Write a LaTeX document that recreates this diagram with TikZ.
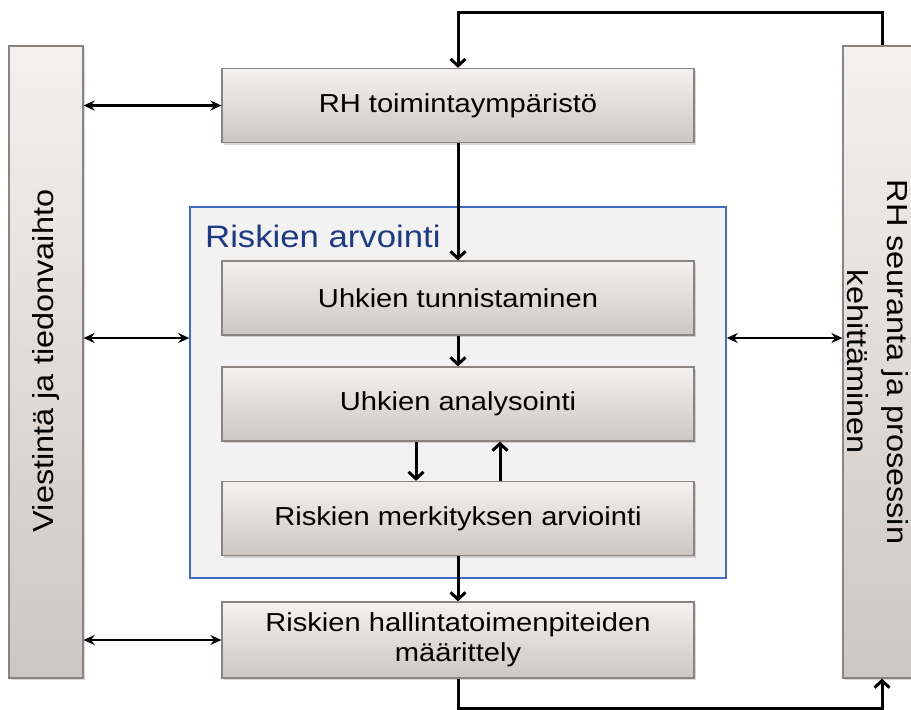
\documentclass[tikz,border=0pt]{standalone}
\usepackage{fontspec}
\setmainfont{Liberation Sans}[FakeStretch=1.12]
\usetikzlibrary{arrows.meta,shadows,calc}
\definecolor{boxtop}{HTML}{F3F1F0}
\definecolor{boxbot}{HTML}{CEC6C2}
\definecolor{boxline}{HTML}{8A837F}
\definecolor{blueline}{HTML}{3D6CC0}
\definecolor{bluefill}{HTML}{F2F2F2}
\definecolor{titleblue}{HTML}{1F3A80}
\begin{document}
\begin{tikzpicture}[x=1pt,y=-1pt,
  shadebox/.style={draw=boxline, line width=1.2pt, top color=boxtop, bottom color=boxbot,
    inner sep=0pt, drop shadow={opacity=0.3, shadow xshift=2pt, shadow yshift=-2pt}},
  procbox/.style={shadebox, minimum width=472pt, minimum height=74pt, align=center,
    font=\fontsize{26}{30}\selectfont},
  barbox/.style={shadebox, minimum width=74pt, minimum height=632pt},
  bartext/.style={font=\fontsize{29}{40}\selectfont, align=center, inner sep=0pt},
  twoway/.style={line width=2.6pt, {Stealth[length=11pt,width=10pt]}-{Stealth[length=11pt,width=10pt]}},
  oneway/.style={line width=3pt, -{Straight Barb[length=7pt,width=15pt]}}
]
\useasboundingbox (0,0) rectangle (911,710);
\clip (0,0) rectangle (911,710);

% blue group
\node[draw=blueline, fill=bluefill, line width=1.5pt, minimum width=536pt, minimum height=371pt, inner sep=0pt] (ra) at (458,392.5) {};
\node[anchor=base west, text=titleblue, font=\fontsize{31}{36}\selectfont, inner sep=0pt] (tt) at (205,247) {Riskien arvointi};

% bars
\node[barbox] (lb) at (46,362) {};
\node[barbox] (rb) at (880,362) {};
\node[bartext, rotate=90] (lt) at (46,361) {Viestintä ja tiedonvaihto};
\node[bartext, rotate=-90] (rt) at (878,362) {RH seuranta ja prosessin\\kehittäminen};

% process boxes
\node[procbox] (rh) at (458,105.5) {RH toimintaympäristö};
\node[procbox] (ut) at (458,298) {Uhkien tunnistaminen};
\node[procbox] (ua) at (458,404) {Uhkien analysointi};
\node[procbox] (rm) at (458,518.5) {Riskien merkityksen arviointi};
\node[procbox, minimum height=76pt] (rhm) at (458,640) {Riskien hallintatoimenpiteiden\\määrittely};

% helper coordinates
\coordinate (mid) at (0,338);
\coordinate (tp) at (458,12);
\coordinate (bt) at (458,708);
\coordinate (rx) at (882,0);

% two-way connectors
\draw[twoway] (lb.east |- rh.west) -- (rh.west);
\draw[twoway] (lb.east |- mid) -- (ra.west |- mid);
\draw[twoway] (ra.east |- mid) -- (rb.west |- mid);
\draw[twoway] (lb.east |- rhm.west) -- (rhm.west);

% main flow
\draw[oneway] (rx |- rb.north) |- (tp) -- (rh.north);
\draw[oneway] (rh.south) -- (ut.north);
\draw[oneway] (ut.south) -- (ua.north);
\draw[oneway] ([xshift=-42pt]ua.south) -- ([xshift=-42pt]rm.north);
\draw[oneway] ([xshift=42pt]rm.north) -- ([xshift=42pt]ua.south);
\draw[oneway] (rm.south) -- (rhm.north);
\draw[oneway] (rhm.south) |- (rx |- bt) -- (rx |- rb.south);
\end{tikzpicture}
\end{document}
